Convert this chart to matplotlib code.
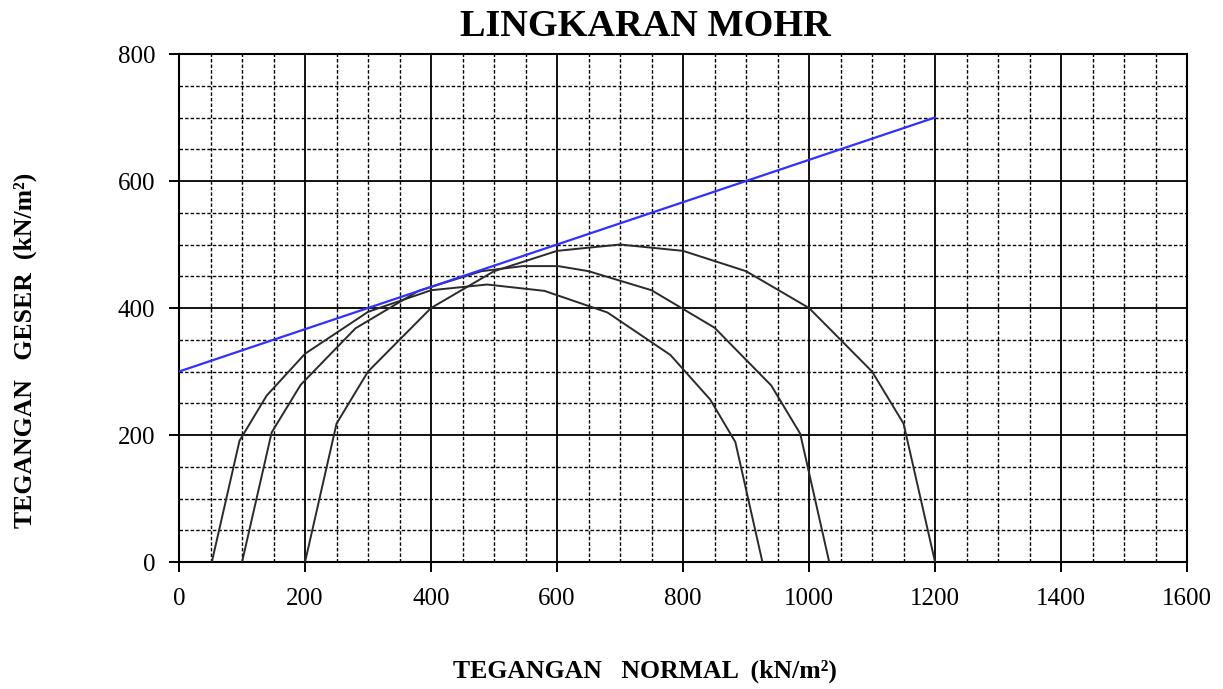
import matplotlib
matplotlib.use("Agg")
import matplotlib.pyplot as plt
from matplotlib.ticker import MultipleLocator

# Mohr circles
sig_1 = [52, 96, 139, 200, 300, 400, 489, 580, 680, 780, 843, 883, 926]
tau_1 = [0, 191, 262, 328, 394, 428, 437, 427, 393, 326, 256, 189, 0]

sig_2 = [100, 147, 193, 280, 380, 480, 546, 602, 650, 750, 850, 940, 986, 1032]
tau_2 = [0, 204, 279, 368, 427, 458, 466, 466, 458, 428, 369, 278, 202, 0]

sig_3 = [200, 250, 300, 400, 500, 600, 700, 800, 900, 1000, 1100, 1150, 1200]
tau_3 = [0, 218, 300, 400, 458, 490, 500, 490, 458, 400, 300, 218, 0]

# failure envelope
env_sig = [0, 1200]
env_tau = [300, 700]

serif = ["Liberation Serif", "DejaVu Serif"]
plt.rcParams['font.family'] = serif

fig = plt.figure(figsize=(12.23, 6.89), dpi=100)
ax = fig.add_axes([0.1464, 0.1843, 0.8242, 0.7373])

ax.set_xlim(0, 1600)
ax.set_ylim(0, 800)
ax.xaxis.set_major_locator(MultipleLocator(200))
ax.yaxis.set_major_locator(MultipleLocator(200))
ax.xaxis.set_minor_locator(MultipleLocator(50))
ax.yaxis.set_minor_locator(MultipleLocator(50))

ax.grid(which='major', color='black', linewidth=1.3, linestyle='-')
ax.grid(which='minor', color='black', linewidth=1.0, linestyle=(0, (2.5, 1.5)))
ax.set_axisbelow(True)

for s in ax.spines.values():
    s.set_linewidth(1.5)
    s.set_color('black')

ax.tick_params(which='major', direction='out', length=7, width=1.4, labelsize=18)
ax.tick_params(axis='x', which='major', pad=12)
ax.tick_params(axis='y', which='major', pad=10)
ax.tick_params(which='minor', length=0)

for sig, tau in [(sig_1, tau_1), (sig_2, tau_2), (sig_3, tau_3)]:
    ax.plot(sig, tau, color='#2a2a2a', linewidth=1.4, zorder=3)

ax.plot(env_sig, env_tau, color='#3030ff', linewidth=1.6, zorder=4)

fig.text(0.528, 0.962, "LINGKARAN MOHR", ha='center', va='center',
         fontsize=27.5, fontweight='bold')
fig.text(0.527, 0.025, "TEGANGAN   NORMAL  (kN/m²)", ha='center', va='center',
         fontsize=18.5, fontweight='bold')
fig.text(0.021, 0.492, "TEGANGAN   GESER  (kN/m²)", ha='center', va='center',
         fontsize=18.5, fontweight='bold', rotation=90)

fig.savefig("out.png", dpi=100)
